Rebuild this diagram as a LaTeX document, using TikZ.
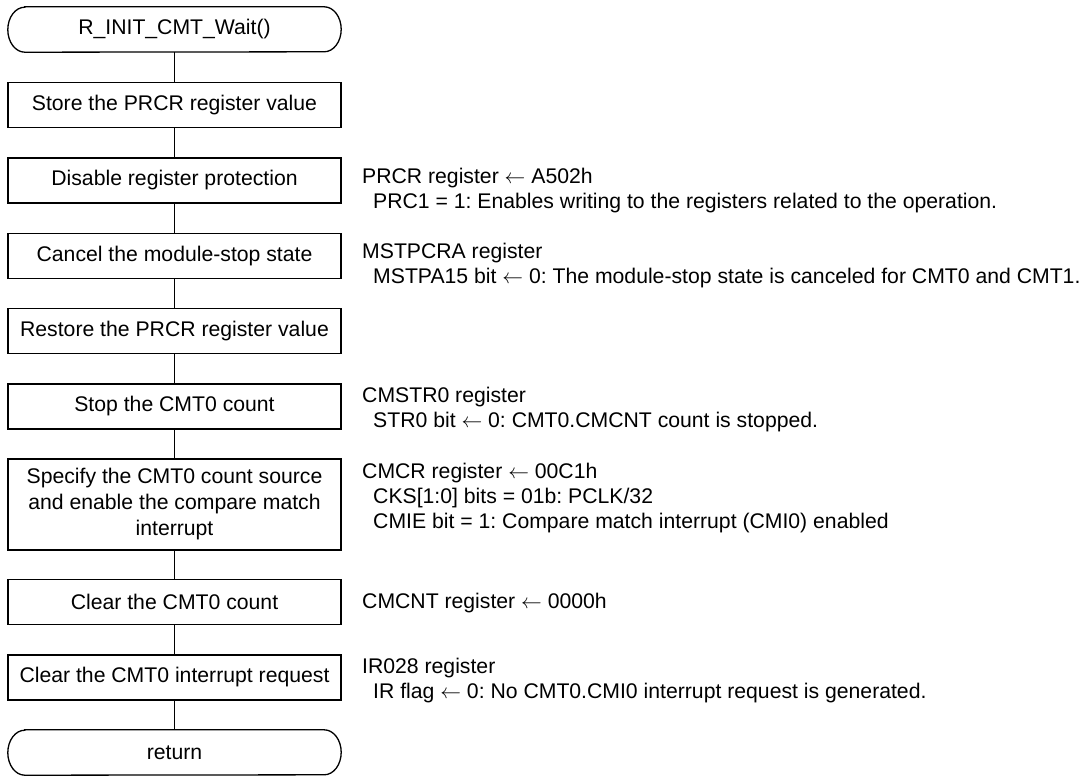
\documentclass[tikz,border=0pt]{standalone}
\usepackage{fontspec}
\setmainfont{Liberation Sans}
\newcommand{\larr}{\ensuremath{\leftarrow}}
\begin{document}
\frenchspacing
\begin{tikzpicture}[x=1pt,y=-1pt,
  every node/.style={font=\fontsize{21.2}{26}\selectfont\frenchspacing},
  proc/.style={draw,line width=1.3pt,minimum width=333pt,minimum height=45pt,inner sep=0pt,align=center},
  term/.style={minimum width=333pt,minimum height=45pt,inner sep=0pt},
  note/.style={anchor=base west,inner sep=0pt},
  conn/.style={line width=1.3pt}]
\useasboundingbox (0,0) rectangle (1091,776);
% terminators
\node[term] (start) at (174.5,29.5) {R\_INIT\_CMT\_Wait()};
\node[term] (ret) at (174.5,752.5) {return};
\foreach \t in {start,ret}{
  \draw[line width=1.3pt] ([xshift=17pt]\t.north west) -- ([xshift=-17pt]\t.north east)
    arc[start angle=90,end angle=-90,x radius=17pt,y radius=22.5pt]
    -- ([xshift=17pt]\t.south west)
    arc[start angle=270,end angle=90,x radius=17pt,y radius=22.5pt] -- cycle;
}
% process boxes
\node[proc] (b1) at (174.5,105) {Store the PRCR register value};
\node[proc] (b2) at (174.5,180.5) {Disable register protection};
\node[proc] (b3) at (174.5,256) {Cancel the module-stop state};
\node[proc] (b4) at (174.5,331) {Restore the PRCR register value};
\node[proc] (b5) at (174.5,406.5) {Stop the CMT0 count};
\node[proc,minimum height=91pt] (b6) at (174.5,504.5) {Specify the CMT0 count source\\and enable the compare match\\interrupt};
\node[proc] (b7) at (174.5,602) {Clear the CMT0 count};
\node[proc] (b8) at (174.5,677.5) {Clear the CMT0 interrupt request};
% connectors
\draw[conn] (start) -- (b1);
\draw[conn] (b1) -- (b2);
\draw[conn] (b2) -- (b3);
\draw[conn] (b3) -- (b4);
\draw[conn] (b4) -- (b5);
\draw[conn] (b5) -- (b6);
\draw[conn] (b6) -- (b7);
\draw[conn] (b7) -- (b8);
\draw[conn] (b8) -- (ret);
% notes
\node[note] (n2a) at (362,183) {PRCR register \larr{} A502h};
\node[note] (n2b) at (373,208) {PRC1 = 1: Enables writing to the registers related to the operation.};
\node[note] (n3a) at (362,258) {MSTPCRA register};
\node[note] (n3b) at (373,283) {MSTPA15 bit \larr{} 0: The module-stop state is canceled for CMT0 and CMT1.};
\node[note] (n5a) at (362,402) {CMSTR0 register};
\node[note] (n5b) at (373,427) {STR0 bit \larr{} 0: CMT0.CMCNT count is stopped.};
\node[note] (n6a) at (362,478) {CMCR register \larr{} 00C1h};
\node[note] (n6b) at (373,503) {CKS[1:0] bits = 01b: PCLK/32};
\node[note] (n6c) at (373,528) {CMIE bit = 1: Compare match interrupt (CMI0) enabled};
\node[note] (n7a) at (362,608) {CMCNT register \larr{} 0000h};
\node[note] (n8a) at (362,673) {IR028 register};
\node[note] (n8b) at (373,698) {IR flag \larr{} 0: No CMT0.CMI0 interrupt request is generated.};
\end{tikzpicture}
\end{document}
